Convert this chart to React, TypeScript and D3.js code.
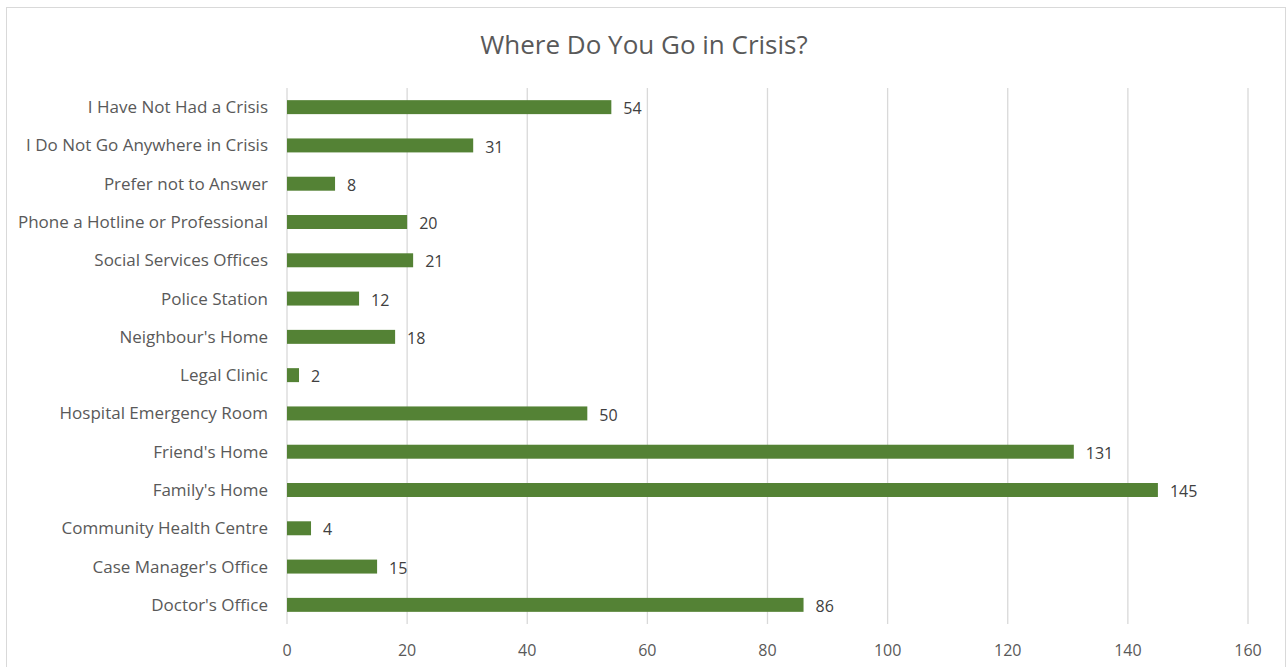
import React from "react";
import * as d3 from "d3";

const categories = [
  "I Have Not Had a Crisis",
  "I Do Not Go Anywhere in Crisis",
  "Prefer not to Answer",
  "Phone a Hotline or Professional",
  "Social Services Offices",
  "Police Station",
  "Neighbour's Home",
  "Legal Clinic",
  "Hospital Emergency Room",
  "Friend's Home",
  "Family's Home",
  "Community Health Centre",
  "Case Manager's Office",
  "Doctor's Office",
];
const values = [54, 31, 8, 20, 21, 12, 18, 2, 50, 131, 145, 4, 15, 86];
const ticks = [0, 20, 40, 60, 80, 100, 120, 140, 160];
const title = "Where Do You Go in Crisis?";

const W = 1288;
const H = 667;
const left = 287;
const right = 1248;
const top = 88;
const bottom = 624;
const FONT = "'Open Sans', 'Noto Sans', sans-serif";

export default function App() {
  const x = d3.scaleLinear().domain([0, 160]).range([left, right]);
  const y = d3
    .scaleBand<string>()
    .domain(categories)
    .range([top, bottom])
    .paddingInner(0.635)
    .paddingOuter(0.3175);
  const bw = y.bandwidth();
  return (
    <svg
      width={W}
      height={H}
      style={{ position: "absolute", left: 0, top: 0, background: "#fff" }}
      fontFamily={FONT}
    >
      <rect x={6.5} y={7.5} width={1279} height={680} fill="#fff" stroke="#d9d9d9" strokeWidth={1} />
      <text x={644} y={54} textAnchor="middle" fontSize={26} fill="#595959">
        {title}
      </text>
      {ticks.map((t) => (
        <g key={t}>
          <line x1={x(t)} x2={x(t)} y1={top} y2={bottom} stroke="#d9d9d9" strokeWidth={1.3} />
          <text x={x(t)} y={656} textAnchor="middle" fontSize={16} fill="#595959">
            {t}
          </text>
        </g>
      ))}
      {categories.map((c, i) => {
        const yy = y(c)!;
        return (
          <g key={c}>
            <rect x={x(0)} y={yy} width={x(values[i]) - x(0)} height={bw} fill="#548235" />
            <text x={268} y={yy + bw / 2} dy="0.35em" textAnchor="end" fontSize={17} fill="#595959">
              {c}
            </text>
            <text x={x(values[i]) + 12} y={yy + bw / 2 + 1.5} dy="0.35em" fontSize={16} fill="#404040">
              {values[i]}
            </text>
          </g>
        );
      })}
    </svg>
  );
}
